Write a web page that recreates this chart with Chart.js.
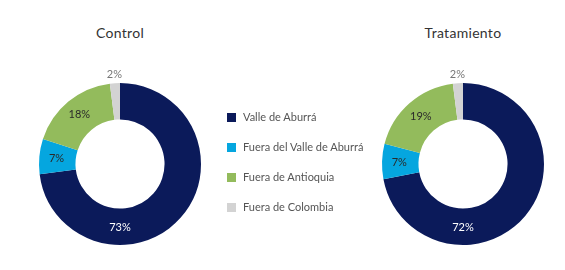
<!DOCTYPE html>
<html lang="es">
<head>
<meta charset="UTF-8">
<title>Control vs Tratamiento</title>
<script src="https://cdn.jsdelivr.net/npm/chart.js"></script>
<style>
  body { margin: 0; background: #fff; font-family: Lato, "Open Sans", sans-serif; }
  #wrap { position: relative; width: 565px; height: 270px; }
  .title { position: absolute; top: 24px; width: 200px; text-align: center; font-size: 14px; color: #333; letter-spacing: 0.3px; }
  .donut { position: absolute; top: 64px; width: 200px; height: 200px; }
  #legend { position: absolute; left: 227px; top: 110px; font-size: 11px; color: #555; }
  .item { height: 30px; display: flex; align-items: flex-start; }
  .box { width: 9px; height: 9px; margin: 3px 7px 0 0; }
</style>
</head>
<body>
<div id="wrap">
  <div class="title" style="left:20px">Control</div>
  <div class="title" style="left:363px">Tratamiento</div>
  <div class="donut" style="left:20px"><canvas id="c1"></canvas></div>
  <div class="donut" style="left:363px"><canvas id="c2"></canvas></div>
  <div id="legend"></div>
</div>
<script>
const categories = ['Valle de Aburrá', 'Fuera del Valle de Aburrá', 'Fuera de Antioquia', 'Fuera de Colombia'];
const controlValues = [73, 7, 18, 2];
const tratamientoValues = [72, 7, 19, 2];
const colors = ['#0b1a5a', '#05a6df', '#93bb5c', '#d3d3d3'];
const labelColors = ['#ffffff', '#2a2a2a', '#2a2a2a', '#777777'];

// legend
const legend = document.getElementById('legend');
categories.forEach((c, i) => {
  legend.innerHTML += `<div class="item"><span class="box" style="background:${colors[i]}"></span>${c}</div>`;
});

// draws percent labels; the big slice gets its label at the bottom, tiny slices outside
const pctLabels = {
  id: 'pctLabels',
  afterDatasetsDraw(chart) {
    const ctx = chart.ctx;
    const meta = chart.getDatasetMeta(0);
    const vals = chart.data.datasets[0].data;
    const maxIdx = vals.indexOf(Math.max(...vals));
    ctx.save();
    ctx.font = '11px Lato, "Open Sans", sans-serif';
    ctx.textAlign = 'center';
    ctx.textBaseline = 'middle';
    meta.data.forEach((arc, i) => {
      const p = arc.getProps(['x', 'y', 'startAngle', 'endAngle', 'innerRadius', 'outerRadius'], true);
      let a = (p.startAngle + p.endAngle) / 2;
      let r = (p.innerRadius + p.outerRadius) / 2 + 1;
      if (i === maxIdx) a = Math.PI / 2;
      if (vals[i] < 4) r = p.outerRadius + 9;
      ctx.fillStyle = labelColors[i];
      ctx.fillText(vals[i] + '%', p.x + r * Math.cos(a), p.y + r * Math.sin(a));
    });
    ctx.restore();
  }
};

function makeDonut(id, values) {
  new Chart(document.getElementById(id), {
    type: 'doughnut',
    data: {
      labels: categories,
      datasets: [{ data: values, backgroundColor: colors, borderWidth: 0 }]
    },
    options: {
      responsive: true,
      maintainAspectRatio: false,
      animation: false,
      cutout: '55%',
      layout: { padding: 19 },
      plugins: { legend: { display: false }, tooltip: { enabled: false } }
    },
    plugins: [pctLabels]
  });
}

makeDonut('c1', controlValues);
makeDonut('c2', tratamientoValues);
</script>
</body>
</html>
